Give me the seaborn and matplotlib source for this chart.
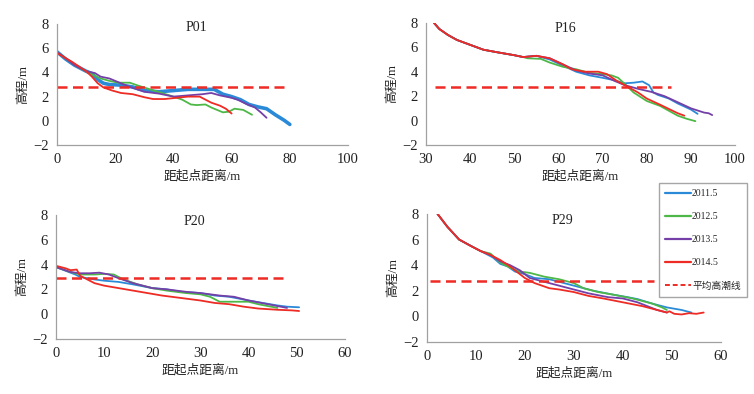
import pandas as pd
import matplotlib.pyplot as plt
import seaborn as sns
from matplotlib.lines import Line2D
from matplotlib.ticker import MultipleLocator

sns.set_style("white")
plt.rcParams['font.family'] = ['Liberation Serif', 'Noto Sans CJK SC']
plt.rcParams['axes.unicode_minus'] = True

years = ["2011.5", "2012.5", "2013.5", "2014.5"]
colors = ["#2b8ad8", "#4db847", "#7440a8", "#ee2b24"]
mhw_label = "平均高潮线"

# P01
p01_2011_x = [0, 3, 6, 10, 12, 14, 16, 18, 22, 26, 30, 35, 40, 45, 50, 54, 57, 60, 63, 66, 69, 72, 75, 78, 80]
p01_2011_y = [5.7, 5.1, 4.6, 4.1, 3.9, 3.4, 3.1, 3.0, 2.95, 2.8, 2.5, 2.4, 2.5, 2.6, 2.6, 2.6, 2.2, 2.0, 1.75, 1.35, 1.15, 1.0, 0.5, 0.05, -0.3]
p01_2012_x = [0, 6, 10, 12, 15, 18, 21, 25, 28, 32, 36, 40, 43, 46, 48, 51, 53, 55, 57, 59, 61, 64, 67]
p01_2012_y = [5.7, 4.6, 4.1, 3.85, 3.5, 3.3, 3.15, 3.15, 2.9, 2.6, 2.3, 2.0, 1.75, 1.35, 1.3, 1.35, 1.1, 0.9, 0.7, 0.75, 1.0, 0.9, 0.5]
p01_2013_x = [0, 6, 10, 13, 15, 18, 21, 25, 30, 35, 40, 45, 50, 53, 56, 60, 62, 65, 68, 70, 72]
p01_2013_y = [5.7, 4.6, 4.1, 3.95, 3.65, 3.5, 3.2, 2.8, 2.4, 2.25, 2.0, 2.1, 2.2, 2.3, 2.1, 1.9, 1.75, 1.4, 1.1, 0.7, 0.25]
p01_2014_x = [0, 5, 10, 12, 14, 16, 19, 22, 26, 30, 33, 37, 41, 45, 49, 51, 53, 56, 58, 60]
p01_2014_y = [5.6, 4.9, 4.1, 3.65, 3.1, 2.75, 2.5, 2.3, 2.2, 1.95, 1.8, 1.8, 1.9, 2.0, 2.0, 1.75, 1.5, 1.25, 1.0, 0.6]
p01_mhw = 2.8
p01_mhw_x = [0, 78]

# P16 (shared upper part)
p16_head_x = [31.8, 33, 35, 37, 40, 43, 46, 50, 52]
p16_head_y = [8.0, 7.5, 7.0, 6.6, 6.2, 5.8, 5.6, 5.35, 5.2]
p16_2011_x = [55, 58, 61, 64, 67, 70, 72, 75, 77, 79, 80.5, 81.5, 82.5, 85, 87, 90, 91.5]
p16_2011_y = [5.3, 5.0, 4.5, 4.0, 3.7, 3.5, 3.35, 3.05, 3.1, 3.2, 2.9, 2.3, 2.1, 1.8, 1.4, 0.9, 0.55]
p16_2012_x = [53, 56, 58, 61, 64, 67, 70, 72, 73.5, 75, 77, 80, 83, 85, 87, 89, 91]
p16_2012_y = [5.1, 5.05, 4.75, 4.4, 4.2, 3.9, 3.8, 3.7, 3.5, 3.0, 2.3, 1.6, 1.2, 0.8, 0.4, 0.15, -0.05]
p16_2013_x = [55, 58, 61, 64, 67, 70, 73, 75, 78, 81, 84, 87, 90, 93, 94, 94.8]
p16_2013_y = [5.3, 5.1, 4.6, 4.1, 3.85, 3.7, 3.2, 2.9, 2.6, 2.35, 2.0, 1.5, 1.0, 0.65, 0.6, 0.45]
p16_2014_x = [55, 58, 61, 63, 66, 69, 71, 73, 75, 78, 80, 83, 85, 87, 88.5]
p16_2014_y = [5.3, 5.1, 4.6, 4.2, 4.0, 4.0, 3.8, 3.3, 2.9, 2.3, 1.8, 1.3, 0.95, 0.6, 0.4]
p16_mhw = 2.72
p16_mhw_x = [32, 85.5]

# P20
p20_2011_x = [0, 2, 4, 5, 8, 10, 13, 16, 20, 23, 26, 30, 33, 36, 40, 43, 46, 48, 50.5]
p20_2011_y = [3.8, 3.5, 3.2, 3.0, 2.8, 2.7, 2.6, 2.4, 2.1, 2.0, 1.8, 1.7, 1.5, 1.4, 1.1, 0.9, 0.7, 0.6, 0.55]
p20_2012_x = [0, 3, 5, 8, 10, 12, 14, 17, 20, 23, 27, 30, 32, 34, 36, 40, 42, 46]
p20_2012_y = [3.8, 3.4, 3.2, 3.2, 3.25, 3.2, 2.8, 2.4, 2.1, 1.9, 1.7, 1.6, 1.4, 1.0, 1.0, 1.0, 0.8, 0.5]
p20_2013_x = [0, 3, 5, 7, 9, 11, 13, 16, 20, 23, 27, 30, 34, 37, 40, 44, 48]
p20_2013_y = [3.8, 3.4, 3.3, 3.3, 3.35, 3.2, 2.9, 2.5, 2.1, 2.0, 1.8, 1.7, 1.5, 1.4, 1.1, 0.8, 0.5]
p20_2014_x = [0, 2, 3, 4.3, 5, 6.5, 8, 10, 13, 16, 19, 22, 26, 28, 30, 33, 36, 39, 42, 46, 49, 50.5]
p20_2014_y = [3.9, 3.7, 3.55, 3.6, 3.1, 2.8, 2.5, 2.3, 2.1, 1.9, 1.7, 1.5, 1.3, 1.2, 1.1, 0.9, 0.8, 0.6, 0.45, 0.35, 0.3, 0.25]
p20_mhw = 2.9
p20_mhw_x = [0, 48]

# P29 (shared upper part)
p29_head_x = [2.2, 4.2, 6.6, 9, 11]
p29_head_y = [8.0, 7.0, 6.0, 5.5, 5.1]
p29_2011_x = [12, 13.5, 15, 16.5, 18, 20, 22, 25, 28, 31, 34, 38, 41, 43, 46, 49, 52, 54]
p29_2011_y = [4.9, 4.6, 4.1, 3.9, 3.5, 3.3, 3.0, 2.9, 2.6, 2.3, 2.0, 1.7, 1.5, 1.35, 1.0, 0.7, 0.5, 0.3]
p29_2012_x = [12, 13, 15, 17, 19, 21, 24, 27, 30, 32, 35, 38, 42, 46, 48, 49]
p29_2012_y = [5.0, 4.9, 4.2, 3.8, 3.5, 3.4, 3.1, 2.9, 2.6, 2.2, 1.9, 1.7, 1.4, 1.0, 0.7, 0.5]
p29_2013_x = [13, 15, 17, 19, 21, 24, 27, 30, 33, 37, 40, 43, 45, 47, 49]
p29_2013_y = [4.8, 4.3, 4.0, 3.6, 3.0, 2.7, 2.4, 2.1, 1.8, 1.5, 1.4, 1.1, 0.8, 0.5, 0.3]
p29_2014_x = [13, 15, 17, 19, 20, 22, 25, 27, 30, 33, 36, 40, 44, 47, 49, 49.5, 50.5, 52, 53.5, 55, 56.5]
p29_2014_y = [4.8, 4.4, 3.9, 3.3, 3.0, 2.6, 2.2, 2.1, 1.9, 1.6, 1.4, 1.1, 0.8, 0.5, 0.3, 0.4, 0.2, 0.15, 0.25, 0.2, 0.3]
p29_mhw = 2.8
p29_mhw_x = [0.7, 46.3]


def make_df(series):
    rows = []
    for year, (xs, ys) in zip(years, series):
        rows.append(pd.DataFrame({"x": xs, "y": ys, "year": year}))
    return pd.concat(rows, ignore_index=True)


panels = [
    ("P01", make_df([(p01_2011_x, p01_2011_y), (p01_2012_x, p01_2012_y),
                     (p01_2013_x, p01_2013_y), (p01_2014_x, p01_2014_y)]),
     p01_mhw, p01_mhw_x, (0, 100), 20, 5, [0.0756, 0.632, 0.386, 0.307], (0.48, 0.975)),
    ("P16", make_df([(p16_head_x + p16_2011_x, p16_head_y + p16_2011_y),
                     (p16_head_x + p16_2012_x, p16_head_y + p16_2012_y),
                     (p16_head_x + p16_2013_x, p16_head_y + p16_2013_y),
                     (p16_head_x + p16_2014_x, p16_head_y + p16_2014_y)]),
     p16_mhw, p16_mhw_x, (30, 100), 10, 2, [0.565, 0.632, 0.410, 0.310], (0.45, 0.95)),
    ("P20", make_df([(p20_2011_x, p20_2011_y), (p20_2012_x, p20_2012_y),
                     (p20_2013_x, p20_2013_y), (p20_2014_x, p20_2014_y)]),
     p20_mhw, p20_mhw_x, (0, 60), 10, 2, [0.0743, 0.140, 0.383, 0.314], (0.48, 0.95)),
    ("P29", make_df([(p29_head_x + p29_2011_x, p29_head_y + p29_2011_y),
                     (p29_head_x + p29_2012_x, p29_head_y + p29_2012_y),
                     (p29_head_x + p29_2013_x, p29_head_y + p29_2013_y),
                     (p29_head_x + p29_2014_x, p29_head_y + p29_2014_y)]),
     p29_mhw, p29_mhw_x, (0, 60), 10, 2, [0.566, 0.132, 0.390, 0.325], (0.46, 0.945)),
]

fig = plt.figure(figsize=(7.54, 3.94), dpi=100)
for name, df, mhw, mhw_x, xlim, xmaj, xmin, pos, tpos in panels:
    ax = fig.add_axes(pos)
    for year, color in zip(years, colors):
        lw = 2.6 if (name == "P01" and year == "2011.5") else 1.3
        sub = df[df["year"] == year]
        sns.lineplot(data=sub, x="x", y="y", ax=ax, color=color, linewidth=lw,
                     sort=False, estimator=None, legend=False)
    ax.plot(mhw_x, [mhw, mhw], color="#ee2b24", linewidth=1.8, dashes=(4, 2.2))
    ax.set_xlim(*xlim)
    ax.set_ylim(-2, 8)
    ax.xaxis.set_major_locator(MultipleLocator(xmaj))
    ax.xaxis.set_minor_locator(MultipleLocator(xmin))
    ax.yaxis.set_major_locator(MultipleLocator(2))
    ax.yaxis.set_minor_locator(MultipleLocator(0.5))
    ax.tick_params(which="both", direction="in", color="#a0a0a0", labelsize=10.5,
                   labelcolor="#222222", pad=6)
    ax.tick_params(which="major", length=3, width=0.8)
    ax.tick_params(which="minor", length=2.5, width=0.8)
    for side in ["top", "right"]:
        ax.spines[side].set_visible(False)
    for side in ["left", "bottom"]:
        ax.spines[side].set_color("#a0a0a0")
        ax.spines[side].set_linewidth(0.9)
    ax.set_xlabel("距起点距离/m", fontsize=9.2, labelpad=3, color="#222222")
    ax.set_ylabel("高程/m", fontsize=9.2, labelpad=3, color="#222222")
    ax.text(tpos[0], tpos[1], name, transform=ax.transAxes, ha="center", va="center",
            fontsize=10, color="#222222")

handles = [Line2D([0], [0], color=c, linewidth=1.6) for c in colors]
handles.append(Line2D([0], [0], color="#ee2b24", linewidth=1.4, dashes=(2.5, 1.5)))
fig.legend(handles, years + [mhw_label], loc="upper left", bbox_to_anchor=(0.874, 0.536),
           fontsize=7, frameon=True, fancybox=False, edgecolor="#909090",
           handlelength=2.6, handletextpad=0.15, labelspacing=1.45, borderpad=0.65,
           borderaxespad=0)

plt.savefig("out.png", dpi=100)
